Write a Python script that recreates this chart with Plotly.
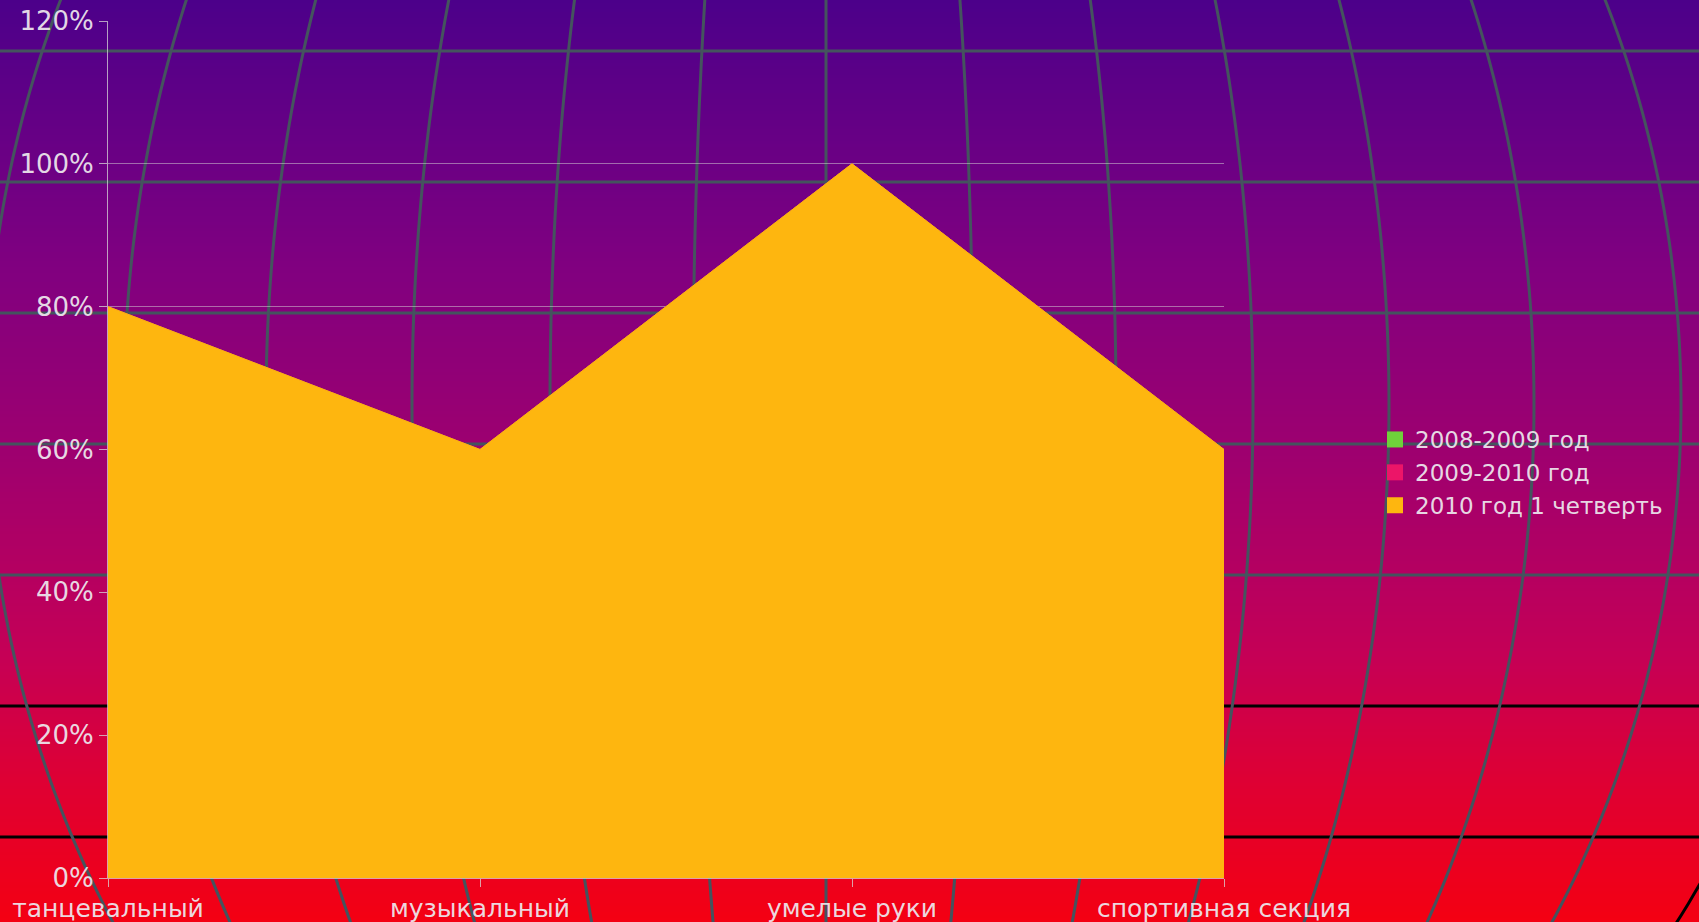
import numpy as np
import plotly.graph_objects as go

# ---------------- data ----------------
categories = ["танцевальный", "музыкальный", "умелые руки", "спортивная секция"]
series_names = ["2008-2009 год", "2009-2010 год", "2010 год 1 четверть"]
values_2008_2009 = [80, 60, 100, 60]   # hidden behind the front series
values_2009_2010 = [80, 60, 100, 60]   # hidden behind the front series
values_2010_q1 = [80, 60, 100, 60]
y_tickvals = [0, 20, 40, 60, 80, 100, 120]
y_ticktext = ["0%", "20%", "40%", "60%", "80%", "100%", "120%"]

series_values = [values_2008_2009, values_2009_2010, values_2010_q1]
series_colors = ["#6fd23a", "#ec1568", "#feb60f"]

# ---------------- geometry / style ----------------
W, H = 1699, 922
ML, MR, MT, MB = 108, 475, 21, 44
PW, PH = W - ML - MR, H - MT - MB
FONT = "DejaVu Sans"


def to_paper(px, py):
    return (px - ML) / PW, (H - MB - py) / PH


shapes = []
# vertical gradient background (indigo -> magenta -> red)
grad_stops_y = [0, 265, 465, 655, 780, 922]
grad_stops_rgb = [(76, 0, 138), (128, 0, 128), (160, 0, 110), (197, 0, 86), (222, 0, 52), (244, 0, 18)]
step = 3
for y0 in range(0, H, step):
    yc = y0 + step / 2
    c = [int(round(np.interp(yc, grad_stops_y, [s[i] for s in grad_stops_rgb]))) for i in range(3)]
    x0p, y0p = to_paper(-5, y0)
    x1p, y1p = to_paper(W + 5, y0 + step + 0.6)
    shapes.append(dict(type="rect", xref="paper", yref="paper", layer="below",
                       x0=x0p, x1=x1p, y0=y1p, y1=y0p,
                       fillcolor=f"rgb({c[0]},{c[1]},{c[2]})", line=dict(width=0)))

# decorative globe grid: parallels
grid_gray = "#44545e"
for py, col in [(51, grid_gray), (182, grid_gray), (313, grid_gray), (444, grid_gray),
                (575, grid_gray), (706, "#000000"), (837, "#000000")]:
    x0p, yp = to_paper(-5, py)
    x1p, _ = to_paper(W + 5, py)
    shapes.append(dict(type="line", xref="paper", yref="paper", layer="below",
                       x0=x0p, x1=x1p, y0=yp, y1=yp, line=dict(color=col, width=3)))

# decorative globe grid: meridians
gcx, gcy, gR = 826, 404, 981
meridian_offsets = [-840, -702, -560, -414, -276, -133, 0, 147, 290, 427, 563, 708, 855]
ys = np.linspace(-5, H + 5, 80)
for off, col in [(o, grid_gray) for o in meridian_offsets] + [(1002, "#000000")]:
    pts = []
    for py in ys:
        g = np.sqrt(max(0.0, 1 - ((py - gcy) / gR) ** 2))
        px = gcx + off * g
        xp, yp = to_paper(px, py)
        pts.append(f"{xp:.5f},{yp:.5f}")
    path = "M " + " L ".join(pts)
    shapes.append(dict(type="path", xref="paper", yref="paper", layer="below",
                       path=path, line=dict(color=col, width=3)))

fig = go.Figure()

# area series (back to front)
for name, vals, col in zip(series_names, series_values, series_colors):
    fig.add_trace(go.Scatter(x=categories, y=vals, mode="lines", fill="tozeroy",
                             line=dict(color=col, width=1), fillcolor=col,
                             name=name, showlegend=False, hoverinfo="skip"))

# legend swatches
for name, col in zip(series_names, series_colors):
    fig.add_trace(go.Scatter(x=[None], y=[None], mode="markers", name=name,
                             marker=dict(symbol="square", size=16, color=col,
                                         line=dict(width=0))))

axis_col = "rgba(215,215,215,0.75)"
label_col = "rgba(236,230,236,0.95)"

fig.update_layout(
    width=W, height=H,
    margin=dict(l=ML, r=MR, t=MT, b=MB, pad=0, autoexpand=False),
    paper_bgcolor="#4c008a",
    plot_bgcolor="rgba(0,0,0,0)",
    shapes=shapes,
    showlegend=True,
    legend=dict(x=(1375 - ML) / PW, y=(H - MB - 418) / PH, xanchor="left", yanchor="top",
                bgcolor="rgba(0,0,0,0)", borderwidth=0,
                font=dict(family=FONT, size=23, color=label_col),
                itemsizing="trace", tracegroupgap=0),
    xaxis=dict(range=[0, 3], showgrid=False, showline=True, linecolor=axis_col, linewidth=1,
               ticks="outside", ticklen=8, tickcolor=axis_col, zeroline=False,
               automargin=False,
               tickfont=dict(family=FONT, size=25, color=label_col)),
    yaxis=dict(range=[0, 120], tickvals=y_tickvals, ticktext=y_ticktext,
               showgrid=True, gridcolor="rgba(215,215,215,0.5)", gridwidth=1,
               showline=True, linecolor=axis_col, linewidth=1, zeroline=False,
               ticks="outside", ticklen=8, tickcolor=axis_col, automargin=False,
               tickfont=dict(family=FONT, size=26, color=label_col)),
)

fig.write_html("out.html")
